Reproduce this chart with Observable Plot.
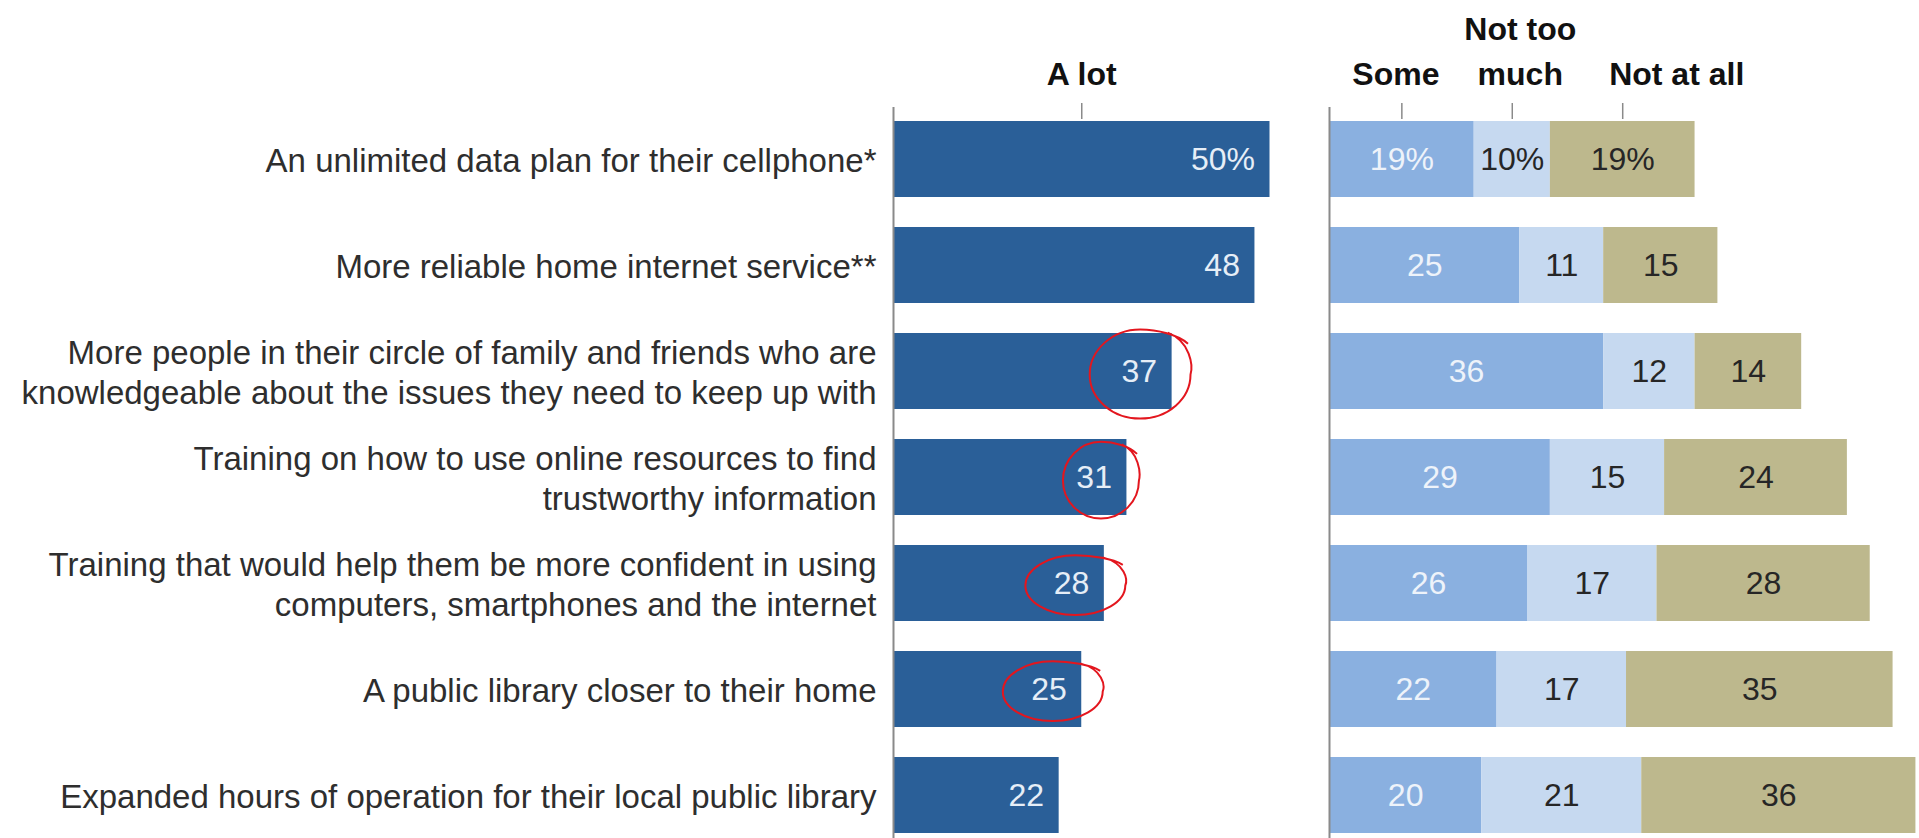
<!DOCTYPE html>
<html>
<head>
<meta charset="utf-8">
<script src="https://cdn.jsdelivr.net/npm/d3@7"></script>
<script src="https://cdn.jsdelivr.net/npm/@observablehq/plot@0.6"></script>
<style>
  html, body { margin: 0; padding: 0; background: #fff; }
  #wrap { display: flex; flex-direction: row; width: 1919px; height: 838px; overflow: hidden; }
  svg { overflow: visible; }
</style>
</head>
<body>
<div id="wrap"></div>
<script>
// ---- data ----
const categories = [
  "An unlimited data plan for their cellphone*",
  "More reliable home internet service**",
  "More people in their circle of family and friends who are\nknowledgeable about the issues they need to keep up with",
  "Training on how to use online resources to find\ntrustworthy information",
  "Training that would help them be more confident in using\ncomputers, smartphones and the internet",
  "A public library closer to their home",
  "Expanded hours of operation for their local public library"
];
const aLot = [50, 48, 37, 31, 28, 25, 22];
const some = [19, 25, 36, 29, 26, 22, 20];
const notTooMuch = [10, 11, 12, 15, 17, 17, 21];
const notAtAll = [19, 15, 14, 24, 28, 35, 36];
const leftHeader = "A lot";
const rightSeries = ["Some", "Not too much", "Not at all"];
const rightHeaders = ["Some", "Not too\nmuch", "Not at all"];
const circled = [false, false, true, true, true, true, false];

// ---- styles ----
const FONT = "'Liberation Sans', Arial, sans-serif";
const barColor = "#2a5f98";
const segColors = {"Some": "#8ab0e0", "Not too much": "#c6d9f0", "Not at all": "#bdb88d"};
const segText = {"Some": "#eef3fa", "Not too much": "#262626", "Not at all": "#262626"};
const headerShift = [-6, 8, 54]; // horizontal offset of each right header label (px)

const leftData = categories.map((c, i) => ({category: c, value: aLot[i], first: i === 0, circled: circled[i], index: i}));
const seriesVals = [some, notTooMuch, notAtAll];
const rightData = [];
categories.forEach((c, i) => {
  rightSeries.forEach((s, j) => rightData.push({category: c, series: s, value: seriesVals[j][i], first: i === 0}));
});

// header tick positions: midpoints of first row's segments
const leftTicks = [aLot[0] / 2];
const rightTicks = [];
{
  let acc = 0;
  seriesVals.forEach(v => { rightTicks.push(acc + v[0] / 2); acc += v[0]; });
}

// hand-drawn-like loop symbol for annotations
function loop(ax, ay) {
  return {
    draw(ctx, size) {
      const r = Math.sqrt(size / Math.PI);
      const rx = r * ax, ry = r * ay, k = 0.5523;
      ctx.moveTo(rx * 0.55, -ry * 0.95);
      ctx.bezierCurveTo(rx * 1.0, -ry * 0.75, rx * 1.05, -ry * 0.2, rx, 0);
      ctx.bezierCurveTo(rx, ry * k, rx * k, ry, 0, ry);
      ctx.bezierCurveTo(-rx * k, ry, -rx, ry * k, -rx, 0);
      ctx.bezierCurveTo(-rx, -ry * k, -rx * k, -ry * 1.02, 0, -ry * 1.02);
      ctx.bezierCurveTo(rx * 0.35, -ry * 1.02, rx * 0.75, -ry * 0.9, rx * 0.95, -ry * 0.7);
    }
  };
}
const annotate = (rows, ax, ay, r, dx, dy) => Plot.dot(leftData.filter(d => d.circled && rows.includes(d.index)),
  {x: "value", y: "category", r, dx, dy, symbol: loop(ax, ay), stroke: "#e3161e", strokeWidth: 2, fill: "none"});

const common = {
  height: 838,
  marginTop: 118,
  marginBottom: 1.4,
  style: {fontFamily: FONT, background: "transparent", overflow: "visible"},
  y: {domain: categories, paddingInner: 0.28, paddingOuter: 0, label: null}
};

const tickOpts = {anchor: "top", tickSize: 16, stroke: "#8a8a8a", strokeWidth: 1.5, tickFormat: () => "", label: null};
const headerOpts = {anchor: "top", tickSize: 0, tickPadding: 34,
  fontSize: 32, fontWeight: "bold", fill: "#111", lineHeight: 1.38, label: null};

const left = Plot.plot({
  ...common,
  width: 1300,
  marginLeft: 893,
  marginRight: 0,
  x: {domain: [0, 54.05], label: null},
  marks: [
    Plot.barX(leftData, {x: "value", y: "category", fill: barColor}),
    Plot.ruleX([0], {stroke: "#8a8a8a", strokeWidth: 2, insetTop: -11, insetBottom: -2}),
    Plot.axisY({tickSize: 0, tickPadding: 17, fontSize: 33, fill: "#2e2e2e", lineHeight: 1.2, label: null}),
    Plot.axisX(leftTicks, tickOpts),
    Plot.axisX(leftTicks, {...headerOpts, tickFormat: () => leftHeader}),
    Plot.text(leftData, {x: "value", y: "category", text: d => d.first ? d.value + "%" : String(d.value),
      textAnchor: "end", dx: -15, fill: "#e6eef7", fontSize: 32}),
    annotate([2], 1.12, 0.98, 45, -32, 3),
    annotate([3], 1.0, 1.0, 38, -26, 3),
    annotate([4, 5], 1.35, 0.8, 37, -29, 2)
  ]
});

const right = Plot.plot({
  ...common,
  width: 619,
  marginLeft: 29,
  marginRight: 0,
  x: {domain: [0, 77.47], label: null},
  color: {type: "identity"},
  marks: [
    Plot.barX(rightData, Plot.stackX({x: "value", y: "category", fill: d => segColors[d.series]})),
    Plot.ruleX([0], {stroke: "#8a8a8a", strokeWidth: 2, insetTop: -11, insetBottom: -2}),
    Plot.axisY({ticks: [], tickSize: 0, label: null}),
    Plot.axisX(rightTicks, tickOpts),
    ...rightTicks.map((t, i) => Plot.axisX([t], {...headerOpts, dx: headerShift[i], tickFormat: () => rightHeaders[i]})),
    Plot.text(rightData, Plot.stackX({x: "value", y: "category",
      text: d => d.first ? d.value + "%" : String(d.value),
      fill: d => segText[d.series], fontSize: 32}))
  ]
});

document.getElementById("wrap").append(left, right);
</script>
</body>
</html>
